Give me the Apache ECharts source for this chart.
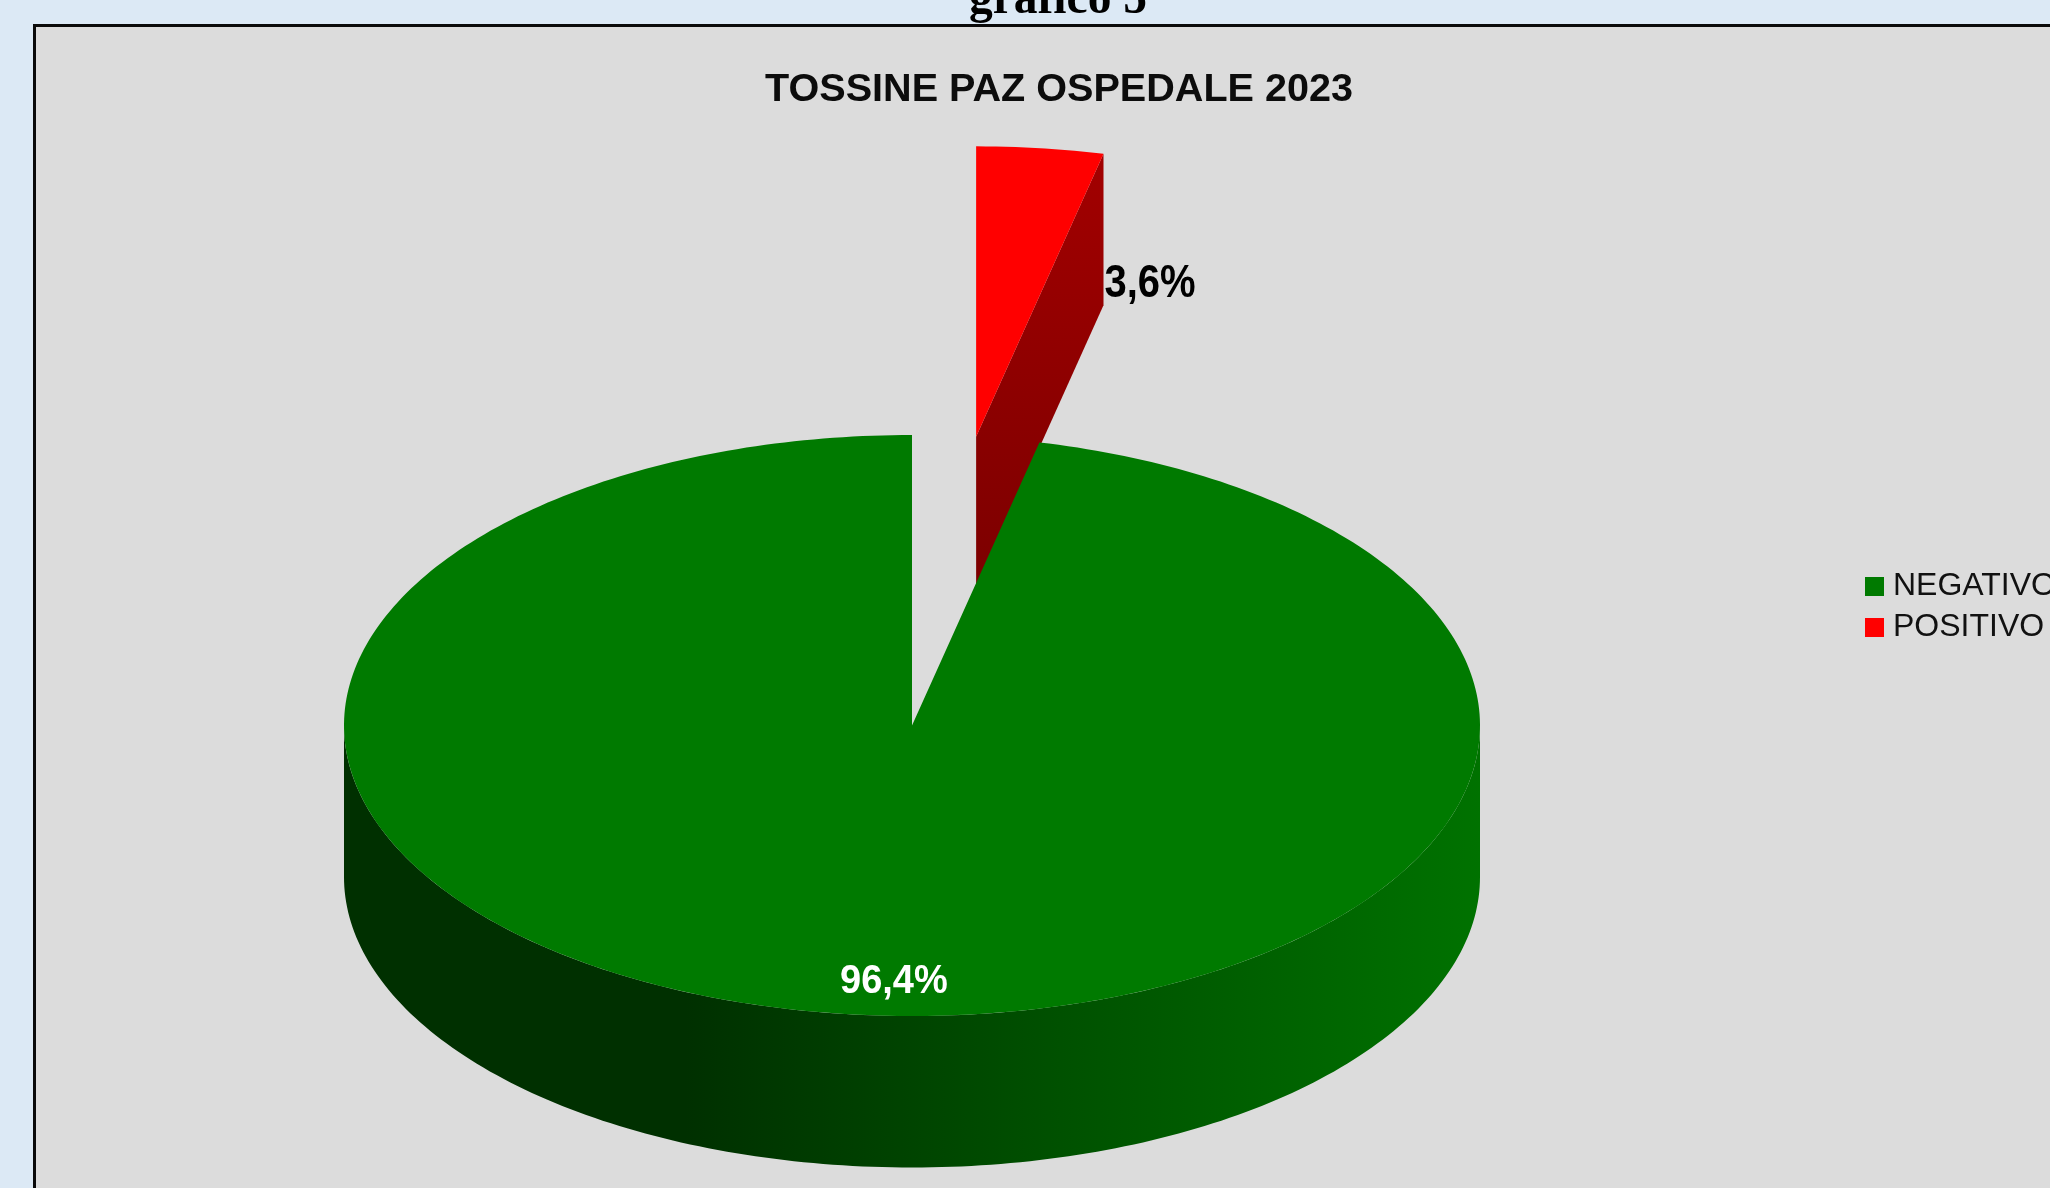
<!DOCTYPE html>
<html>
<head>
<meta charset="utf-8">
<style>html,body{margin:0;padding:0;overflow:hidden;background:#dce9f5}#c{width:2050px;height:1188px}</style>
<script src="https://cdn.jsdelivr.net/npm/echarts@6/dist/echarts.min.js"></script>
</head>
<body>
<div id="c"></div>
<script>
// Toxin test outcomes for hospital patients, 2023 (percent)
const heading = 'grafico 5';
const chartTitle = 'TOSSINE PAZ OSPEDALE 2023';
const categories = ['NEGATIVO', 'POSITIVO'];
const shares = [96.4, 3.6];
const sliceColors = ['#007a00', '#ff0000'];

// Tilted pie geometry: top face ellipse, extrusion depth and exploded distance
const CX = 912, CY = 725.5, RX = 568, RY = 290.5, DEPTH = 151.5;
const total = shares.reduce((a, b) => a + b, 0);
const pt = (deg, ox, oy, dy) => {
  const r = deg * Math.PI / 180;
  return [CX + ox + RX * Math.sin(r), CY + oy - RY * Math.cos(r) + (dy || 0)];
};
const arc = (from, to, ox, oy, dy) => {
  const out = [], n = Math.max(2, Math.ceil(Math.abs(to - from)));
  for (let i = 0; i <= n; i++) out.push(pt(from + (to - from) * i / n, ox, oy, dy));
  return out;
};
const fmt = v => v.toFixed(1).replace('.', ',') + '%';

// The positive slice opens at 12 o'clock and runs clockwise; the negative one follows
function sliceRange(idx) {
  const pos = shares[1] / total * 360;
  return idx === 1 ? [0, pos] : [pos, 360];
}

const greenSide = new echarts.graphic.LinearGradient(0, 0, 1, 0, [
  { offset: 0, color: '#003000' },
  { offset: 0.3, color: '#003000' },
  { offset: 0.62, color: '#005000' },
  { offset: 1, color: '#007200' }
]);
const redSide = new echarts.graphic.LinearGradient(0, 0, 0, 1, [
  { offset: 0, color: '#a20000' },
  { offset: 1, color: '#7c0000' }
]);

function sliceRenderer(idx, opts) {
  return function (params, api) {
    const share = api.value(0);
    const [a0, a1] = sliceRange(idx);
    const mid = (a0 + a1) / 2, rad = mid * Math.PI / 180;
    const ox = opts.explode ? RX * Math.sin(rad) : 0;
    const oy = opts.explode ? -RY * Math.cos(rad) : 0;
    const apex = [CX + ox, CY + oy];
    const children = [];
    // outer wall, only the part turned toward the viewer
    const f0 = Math.max(a0, 90), f1 = Math.min(a1, 270);
    if (f1 > f0) {
      children.push({
        type: 'polygon', z2: opts.z + 1,
        shape: { points: arc(f0, f1, ox, oy).concat(arc(f1, f0, ox, oy, DEPTH)) },
        style: { fill: opts.side }
      });
    }
    // cut wall of the exploded wedge
    if (opts.explode) {
      const corner = pt(a1, ox, oy);
      children.push({
        type: 'polygon', z2: opts.z + 1,
        shape: { points: [apex, corner, [corner[0], corner[1] + DEPTH], [apex[0], apex[1] + DEPTH]] },
        style: { fill: opts.side }
      });
    }
    children.push({
      type: 'polygon', z2: opts.z + 2,
      shape: { points: [apex].concat(arc(a0, a1, ox, oy)) },
      style: { fill: sliceColors[idx] }
    });
    const ref = opts.explode ? pt(a1, ox, oy) : pt(mid, ox, oy);
    // value label, slightly condensed by a vertical stretch
    children.push({
      type: 'text', z2: opts.z + 3,
      x: ref[0] + opts.labelDx, y: ref[1] + opts.labelDy,
      scaleY: opts.labelStretch,
      style: {
        x: 0, y: 0,
        text: fmt(share), fill: opts.labelColor,
        font: 'bold ' + opts.labelSize + 'px "Liberation Sans"',
        align: opts.labelAlign, verticalAlign: 'middle'
      }
    });
    return { type: 'group', children };
  };
}

const chart = echarts.init(document.getElementById('c'), null, { renderer: 'canvas' });
chart.setOption({
  animation: false,
  backgroundColor: '#dce9f5',
  graphic: [{
    type: 'rect', z: -10, silent: true,
    shape: { x: 34.5, y: 25.5, width: 2100, height: 1300 },
    style: { fill: '#dcdcdc', stroke: '#0a0a0a', lineWidth: 3 }
  }],
  title: [
    { text: heading, left: 1053, top: -28, textAlign: 'center',
      textStyle: { fontFamily: 'Liberation Serif', fontWeight: 'bold', fontSize: 47.5, color: '#000' } },
    { text: chartTitle, left: 1054, top: 65, textAlign: 'center',
      textStyle: { fontFamily: 'Liberation Sans', fontWeight: 'bold', fontSize: 39.6, color: '#0c0c0c' } }
  ],
  legend: {
    data: categories, orient: 'vertical', left: 1865, top: 570.5, icon: 'rect',
    itemWidth: 19, itemHeight: 19, itemGap: 9, padding: 0,
    textStyle: { fontFamily: 'Liberation Sans', fontSize: 32, color: '#111', padding: [0, 0, 0, 4] }
  },
  series: [
    { type: 'custom', name: categories[0], coordinateSystem: 'none', silent: true,
      itemStyle: { color: sliceColors[0] }, data: [[shares[0]]],
      renderItem: sliceRenderer(0, { explode: false, z: 10, side: greenSide, labelColor: '#fff', labelSize: 38,
        labelStretch: 1.08, labelDx: 46, labelDy: -32, labelAlign: 'center' }) },
    { type: 'custom', name: categories[1], coordinateSystem: 'none', silent: true,
      itemStyle: { color: sliceColors[1] }, data: [[shares[1]]],
      renderItem: sliceRenderer(1, { explode: true, z: 0, side: redSide, labelColor: '#000', labelSize: 40,
        labelStretch: 1.15, labelDx: 1, labelDy: 131, labelAlign: 'left' }) }
  ]
});
</script>
</body>
</html>
